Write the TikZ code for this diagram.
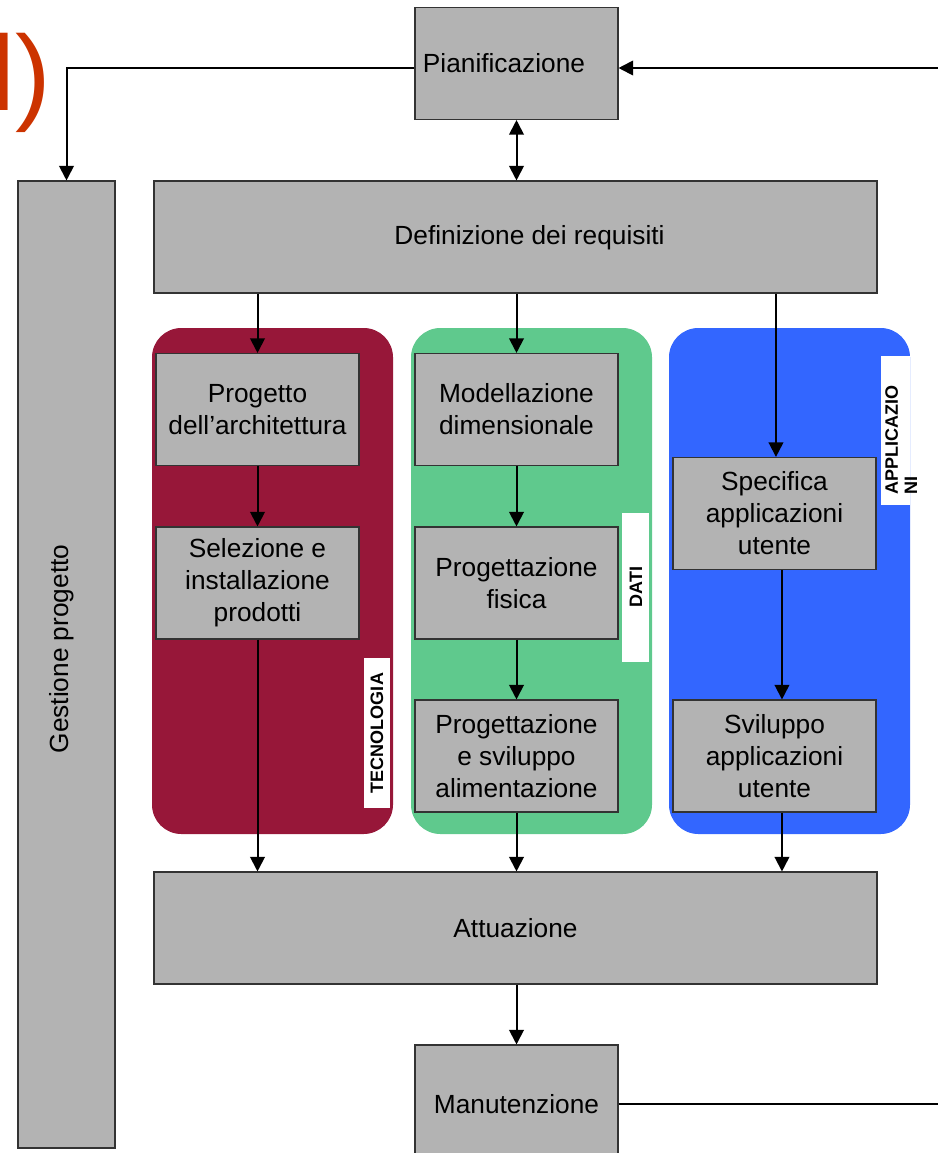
\documentclass[tikz,border=0pt]{standalone}
\usepackage{fontspec}
\setmainfont{Liberation Sans}
\usetikzlibrary{arrows.meta}
\definecolor{colBox}{HTML}{B3B3B3}
\definecolor{colTec}{HTML}{971739}
\definecolor{colDat}{HTML}{5FC98D}
\definecolor{colApp}{HTML}{3366FF}
\definecolor{colTit}{HTML}{CC3300}
\tikzstyle{box}=[draw=black!80, fill=colBox, line width=0.8pt, inner sep=2pt, align=center,
  minimum width=152.25pt, minimum height=84pt, font=\fontsize{19.7}{24}\selectfont]
\tikzstyle{wide}=[box, minimum width=542.25pt]
\tikzstyle{boxtext}=[inner sep=0pt, font=\fontsize{19.7}{24}\selectfont]
\tikzstyle{panel}=[rounded corners=22pt]
\tikzstyle{tag}=[fill=white, inner sep=0pt]
\tikzstyle{tagtext}=[rotate=90, inner sep=0pt, font=\fontsize{13.5}{14.5}\bfseries\selectfont]
\tikzstyle{arr}=[line width=1.5pt, -{Triangle[width=11pt,length=11pt]}]
\tikzstyle{darr}=[line width=1.5pt, {Triangle[width=11pt,length=11pt]}-{Triangle[width=11pt,length=11pt]}]
\tikzstyle{line}=[line width=1.5pt]

\begin{document}
\begin{tikzpicture}[x=0.75pt, y=-0.75pt]
		\useasboundingbox (0,0) rectangle (938,1153);
		\clip (0,0) rectangle (938,1153);
		% title fragment
		\node[anchor=base east, inner sep=0pt, text=colTit, font=\fontsize{80}{80}\selectfont] (tit) at (51,110) {l)};
		% panels
		\fill[panel, colTec] (152,328) rectangle (393,834);
		\fill[panel, colDat] (411,328) rectangle (652,834);
		\fill[panel, colApp] (669,328) rectangle (910,834);
		\fill[tag] (364,658) rectangle (390,808);
		\fill[tag] (622,513) rectangle (649,662);
		\fill[tag] (881,356) rectangle (910,505);
		\node[tagtext] (ttec) at (377,733) {TECNOLOGIA};
		\node[tagtext] (tdat) at (636,587) {DATI};
		\node[tagtext, anchor=north west, align=left] (tapp) at (885,495) {APPLICAZIO\\NI};
		% boxes
		\node[box] (plan) at (516.5,63.5) {};
		\node[boxtext] (ptxt) at (504,63) {Pianificazione};
		\node[box, minimum width=72.75pt, minimum height=725.25pt] (gest) at (66.5,664.5) {};
		\node[boxtext, rotate=90] (gtxt) at (62,649) {Gestione progetto};
		\node[wide] (def) at (515.5,237) {};
		\node[boxtext] (dtxt) at (529.5,238) {Definizione dei requisiti};
		\node[box] (arch) at (257.5,409.5) {Progetto\\dell’architettura};
		\node[box] (sel) at (257.5,583) {Selezione e\\installazione\\prodotti};
		\node[box] (mod) at (516.5,409.5) {Modellazione\\dimensionale};
		\node[box] (fis) at (516.5,583) {Progettazione\\fisica};
		\node[box] (ali) at (516.5,756) {Progettazione\\e sviluppo\\alimentazione};
		\node[box] (spec) at (774.5,513.5) {Specifica\\applicazioni\\utente};
		\node[box] (svil) at (774.5,756) {Sviluppo\\applicazioni\\utente};
		\node[wide] (att) at (515.5,928) {Attuazione};
		\node[box, minimum height=88.5pt] (man) at (516.5,1104) {};
		\node[boxtext] (mtxt) at (516.5,1104) {Manutenzione};
		\coordinate (rin) at (945,68);
		\coordinate (rout) at (945,1104);
		% connectors
		\draw[arr] (rin) -- (rin -| plan.east);
		\draw[arr] (rin -| plan.west) -- (rin -| gest.north) -- (gest.north);
		\draw[darr] (plan.south) -- (plan.south |- def.north);
		\draw[arr] (def.south -| arch.north) -- (arch.north);
		\draw[arr] (def.south -| mod.north) -- (mod.north);
		\draw[arr] ([xshift=1.1pt]def.south -| spec.north) -- ([xshift=1.1pt]spec.north);
		\draw[arr] (arch)edge(sel) (mod)edge(fis) (fis)edge(ali);
		\draw[arr] (sel.south) -- (sel.south |- att.north);
		\draw[arr] (ali.south) -- (ali.south |- att.north);
		\draw[arr] ([xshift=5.6pt]spec.south) -- ([xshift=5.6pt]svil.north);
		\draw[arr] ([xshift=5.6pt]svil.south) -- ([xshift=5.6pt]svil.south |- att.north);
		\draw[arr] (att.south -| man.north) -- (man.north);
		\draw[line] (man.east) -- (rout);
	\end{tikzpicture}
\end{document}
